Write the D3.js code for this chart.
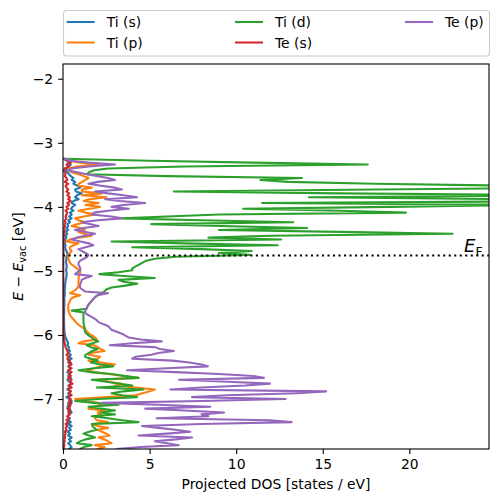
<!DOCTYPE html>
<html><head><meta charset="utf-8">
<script src="https://cdn.jsdelivr.net/npm/d3@7"></script>
<style>body{margin:0;background:#fff}svg{display:block;font-family:"DejaVu Sans",sans-serif}</style>
</head><body><svg id="c" width="498" height="502"></svg>
<script>
// Energy grid (eV, relative to vacuum)
const energy = [
-3.25,-3.28,-3.31,-3.34,-3.37,-3.40,-3.43,-3.46,-3.49,-3.52,
-3.55,-3.58,-3.61,-3.64,-3.67,-3.70,-3.73,-3.76,-3.79,-3.82,
-3.85,-3.88,-3.91,-3.94,-3.97,-4.00,-4.03,-4.06,-4.09,-4.12,
-4.15,-4.18,-4.21,-4.24,-4.27,-4.30,-4.33,-4.36,-4.39,-4.42,
-4.45,-4.48,-4.51,-4.54,-4.57,-4.60,-4.63,-4.66,-4.69,-4.72,
-4.75,-4.78,-4.81,-4.84,-4.87,-4.90,-4.93,-4.96,-4.99,-5.02,
-5.05,-5.08,-5.11,-5.14,-5.17,-5.20,-5.23,-5.26,-5.29,-5.32,
-5.35,-5.38,-5.41,-5.44,-5.47,-5.50,-5.53,-5.56,-5.59,-5.62,
-5.65,-5.68,-5.71,-5.74,-5.77,-5.80,-5.83,-5.86,-5.89,-5.92,
-5.95,-5.98,-6.01,-6.04,-6.07,-6.10,-6.13,-6.16,-6.19,-6.22,
-6.25,-6.28,-6.31,-6.34,-6.37,-6.40,-6.43,-6.46,-6.49,-6.52,
-6.55,-6.58,-6.61,-6.64,-6.67,-6.70,-6.73,-6.76,-6.79,-6.82,
-6.85,-6.88,-6.91,-6.94,-6.97,-7.00,-7.03,-7.06,-7.09,-7.12,
-7.15,-7.18,-7.21,-7.24,-7.27,-7.30,-7.33,-7.36,-7.39,-7.42,
-7.45,-7.48,-7.51,-7.54,-7.57,-7.60,-7.63,-7.66,-7.69,-7.72,
-7.75,-7.78];

const tiS = [
0.05,0.2,0.35,0.45,0.3,0.2,0.15,0.25,0.35,0.45,
0.6,0.5,0.7,0.6,0.85,1.0,0.7,0.75,1.08,0.8,
0.7,0.9,0.6,0.5,0.7,0.55,0.45,0.6,0.4,0.5,
0.35,0.5,0.3,0.4,0.25,0.3,0.2,0.3,0.15,0.25,
0.15,0.2,0.12,0.15,0.1,0.15,0.12,0.15,0.2,0.25,
0.25,0.2,0.2,0.18,0.18,0.2,0.22,0.2,0.18,0.2,
0.22,0.2,0.18,0.15,0.15,0.12,0.12,0.12,0.1,0.1,
0.1,0.1,0.08,0.08,0.08,0.08,0.08,0.07,0.07,0.07,
0.07,0.06,0.06,0.06,0.06,0.06,0.06,0.07,0.07,0.08,
0.08,0.1,0.12,0.15,0.2,0.25,0.3,0.25,0.35,0.3,
0.4,0.3,0.45,0.35,0.5,0.3,0.45,0.4,0.3,0.5,
0.35,0.25,0.4,0.3,0.45,0.25,0.35,0.5,0.3,0.4,
0.25,0.45,0.3,0.4,0.2,0.35,0.5,0.3,0.45,0.25,
0.4,0.3,0.5,0.35,0.25,0.4,0.3,0.45,0.3,0.5,
0.35,0.45,0.25,0.4,0.3,0.5,0.35,0.45,0.3,0.4,
0.5,0.35];

const tiP = [
0.05,0.3,1.0,2.05,0.8,0.3,0.3,0.5,0.9,1.2,
1.47,1.3,1.1,0.9,0.89,1.66,1.1,1.08,2.24,1.1,
2.5,1.5,1.2,2.05,1.3,2.14,1.5,0.89,1.3,1.85,
1.2,0.7,0.9,1.27,0.8,0.5,1.0,1.27,0.89,1.2,
1.66,0.9,0.4,0.2,0.9,0.6,0.4,0.4,0.5,0.4,
0.3,0.3,0.3,0.35,0.4,0.5,0.65,0.8,0.95,1.0,
0.95,0.92,0.9,0.9,0.9,0.89,0.89,0.85,0.75,0.6,
0.4,1.0,0.6,0.45,0.4,0.35,0.3,0.3,0.3,0.32,
0.35,0.4,0.45,0.55,0.65,0.75,0.85,1.0,1.15,1.3,
1.4,1.5,1.7,1.85,1.95,1.2,0.89,1.8,2.0,2.2,
2.4,1.6,1.5,2.14,2.0,1.47,2.2,3.0,2.2,1.8,
1.37,1.8,2.6,3.5,4.36,2.0,2.6,3.4,3.0,4.2,
5.3,5.0,4.6,4.2,2.5,0.7,1.2,2.0,2.24,1.8,
1.47,2.4,2.0,2.2,1.9,1.85,1.95,2.6,1.7,2.0,
2.6,2.0,2.24,2.5,2.7,2.05,2.4,2.6,2.8,1.85,
2.4,2.0];

const tiD = [
0,5,11,17.6,7,2.6,1.8,1.5,1.4,6,
13.8,11.4,13,18,26,30,18,6.4,16,30,
14.2,26,30,11.5,27,18.9,10.4,16,19.8,9,
6,3.4,8,13.3,5.1,9.1,14.1,9,16,22.5,
12,8.4,12.6,2.8,7,12.4,4.0,8,10.9,9,
10.8,6.5,5.3,4.8,4.6,4.4,4.2,4.0,4.0,3.2,
2.1,3.5,5.3,3.2,3.5,4.3,3.6,2.8,2.5,2.4,
2.2,2.0,1.85,1.75,1.65,1.55,1.47,1.4,1.37,0.5,
1.2,1.18,1.18,1.18,1.18,1.18,1.2,1.22,1.25,1.27,
1.27,1.35,1.5,1.66,1.8,2.04,1.7,1.37,1.6,2.0,
1.7,1.5,1.3,1.27,1.6,2.0,1.6,2.2,2.9,1.8,
0.9,1.6,2.8,3.6,4.36,1.66,2.5,3.3,4.0,1.95,
4.65,3.5,2.8,3.4,4.27,2.0,0.7,1.8,3.2,1.47,
2.2,3.0,2.2,3.0,1.66,2.6,3.4,4.36,1.66,1.7,
1.8,1.95,1.5,1.18,1.5,1.85,1.3,1.0,0.8,1.66,
1.2,1.0];

const teS = [
0.05,0.3,0.45,0.2,0.35,0.1,0.05,0.1,0.15,0.1,
0.2,0.25,0.1,0.3,0.15,0.2,0.3,0.2,0.35,0.25,
0.4,0.3,0.45,0.25,0.35,0.2,0.3,0.15,0.25,0.2,
0.15,0.2,0.1,0.15,0.08,0.12,0.06,0.1,0.05,0.08,
0.05,0.04,0.05,0.04,0.03,0.03,0.03,0.03,0.03,0.03,
0.02,0.02,0.02,0.02,0.02,0.02,0.02,0.02,0.02,0.02,
0.02,0.02,0.02,0.02,0.02,0.02,0.02,0.02,0.02,0.02,
0.02,0.02,0.02,0.02,0.02,0.02,0.02,0.02,0.02,0.02,
0.02,0.02,0.02,0.02,0.02,0.02,0.02,0.02,0.02,0.02,
0.03,0.03,0.04,0.05,0.06,0.08,0.1,0.12,0.15,0.2,
0.25,0.3,0.2,0.35,0.25,0.4,0.3,0.5,0.35,0.45,
0.3,0.5,0.35,0.45,0.3,0.5,0.4,0.55,0.35,0.5,
0.3,0.45,0.35,0.5,0.3,0.45,0.35,0.5,0.3,0.4,
0.25,0.45,0.3,0.4,0.25,0.35,0.2,0.3,0.15,0.25,
0.15,0.2,0.1,0.15,0.1,0.12,0.08,0.1,0.06,0.08,
0.05,0.05];

const teP = [
0.1,0.4,1.5,3.0,1.5,0.5,0.3,0.8,1.37,2.0,
2.6,3.0,2.0,1.47,2.2,3.0,3.4,1.85,2.6,3.5,
4.27,2.43,3.3,4.75,3.5,2.8,3.8,2.6,1.8,1.66,
2.8,3.4,2.0,1.08,1.6,2.05,1.2,0.7,1.2,1.85,
1.3,0.8,0.5,1.0,1.5,1.75,1.3,0.89,1.1,1.3,
1.47,1.4,1.2,1.0,0.9,0.89,0.95,1.0,1.0,0.85,
0.7,1.66,1.3,1.08,1.05,1.0,0.98,0.98,1.1,1.27,
2.6,2.0,1.85,1.75,1.66,1.55,1.47,1.4,1.35,1.3,
1.27,1.4,1.6,1.8,1.95,2.05,2.3,2.6,2.7,2.8,
3.1,3.4,3.6,3.8,4.5,5.7,4.0,2.7,5.3,5.6,
6.4,5.5,5.1,4.2,4.0,6.3,7.3,8.0,8.36,6.0,
3.7,6.5,9.0,11.0,11.6,6.7,9.5,11.95,10.5,8.0,
6.2,15.2,13.5,9.5,7.45,12.85,8.0,2.24,5.5,8.5,
4.75,7.0,9.3,8.0,8.4,5.4,11.9,13.2,8.0,4.56,
5.5,6.5,7.35,6.0,4.36,7.45,6.5,5.3,6.0,6.68,
4.5,3.1];

const seriesNames = ["Ti (s)", "Ti (p)", "Ti (d)", "Te (s)", "Te (p)"];
const seriesValues = [tiS, tiP, tiD, teS, teP];
const seriesColors = ["#1f77b4", "#ff7f0e", "#2ca02c", "#d62728", "#9467bd"];
const fermiLevel = -4.76;
const xTicks = [0, 5, 10, 15, 20];
const yTicks = [-7, -6, -5, -4, -3, -2];

const L = 63, R = 489, T = 64, B = 449;
const svg = d3.select("#c");
const x = d3.scaleLinear().domain([0, 24.6]).range([L, R]);
const y = d3.scaleLinear().domain([-7.78, -1.77]).range([B, T]);

svg.append("defs").append("clipPath").attr("id", "clip")
  .append("rect").attr("x", L).attr("y", T).attr("width", R - L).attr("height", B - T);

const plot = svg.append("g").attr("clip-path", "url(#clip)");
const line = d3.line().x(d => x(d[0])).y(d => y(d[1]));
seriesValues.forEach((vals, k) => {
  plot.append("path")
    .attr("d", line(vals.map((v, i) => [v, energy[i]])))
    .attr("fill", "none").attr("stroke", seriesColors[k])
    .attr("stroke-width", 2.08).attr("stroke-linejoin", "round").attr("stroke-linecap", "square");
});

// Fermi level
plot.append("line").attr("x1", x(0)).attr("x2", R).attr("y1", y(fermiLevel)).attr("y2", y(fermiLevel))
  .attr("stroke", "#000").attr("stroke-width", 2.08).attr("stroke-dasharray", "2.08,3.43");

svg.append("text").attr("x", 464).attr("y", 252).attr("font-size", 18).attr("fill", "#000")
  .html('<tspan font-style="italic">E</tspan><tspan font-size="12.5" dy="3.5">F</tspan>');

// axes
const fmt = d => d3.format("")(d);
const xAxis = svg.append("g").attr("transform", `translate(0,${B})`)
  .call(d3.axisBottom(x).tickValues(xTicks).tickSize(4.9).tickPadding(4.9).tickFormat(fmt));
const yAxis = svg.append("g").attr("transform", `translate(${L},0)`)
  .call(d3.axisLeft(y).tickValues(yTicks).tickSize(4.9).tickPadding(4.9).tickFormat(fmt));
[xAxis, yAxis].forEach(a => {
  a.select(".domain").remove();
  a.selectAll(".tick line").attr("stroke", "#000").attr("stroke-width", 1.1);
  a.selectAll(".tick text").attr("font-size", 13.9).attr("fill", "#000").attr("font-family", "DejaVu Sans");
});
svg.append("rect").attr("x", L).attr("y", T).attr("width", R - L).attr("height", B - T)
  .attr("fill", "none").attr("stroke", "#000").attr("stroke-width", 1.1);

svg.append("text").attr("x", (L + R) / 2).attr("y", 489).attr("text-anchor", "middle")
  .attr("font-size", 13.9).attr("fill", "#000").text("Projected DOS [states / eV]");

svg.append("text").attr("transform", `translate(23,${(T + B) / 2}) rotate(-90)`).attr("text-anchor", "middle")
  .attr("font-size", 13.9).attr("fill", "#000")
  .html('<tspan font-style="italic">E</tspan> − <tspan font-style="italic">E</tspan><tspan font-size="9.7" dy="3">vac</tspan><tspan dy="-3"> [eV]</tspan>');

// legend
const lg = svg.append("g");
lg.append("rect").attr("x", 63.5).attr("y", 10.5).attr("width", 426).attr("height", 45.5).attr("rx", 3)
  .attr("fill", "#fff").attr("fill-opacity", 0.8).attr("stroke", "#cccccc").attr("stroke-width", 1.1);
const colX = [66.7, 235, 405];
const rowY = [22, 42.5];
const legendPos = [[0,0],[0,1],[1,0],[1,1],[2,0]];
seriesNames.forEach((name, k) => {
  const [c, r] = legendPos[k];
  lg.append("line").attr("x1", colX[c]).attr("x2", colX[c] + 28).attr("y1", rowY[r]).attr("y2", rowY[r])
    .attr("stroke", seriesColors[k]).attr("stroke-width", 2.08);
  lg.append("text").attr("x", colX[c] + 40).attr("y", rowY[r] + 5).attr("font-size", 13.9).attr("fill", "#000").text(name);
});
</script></body></html>
